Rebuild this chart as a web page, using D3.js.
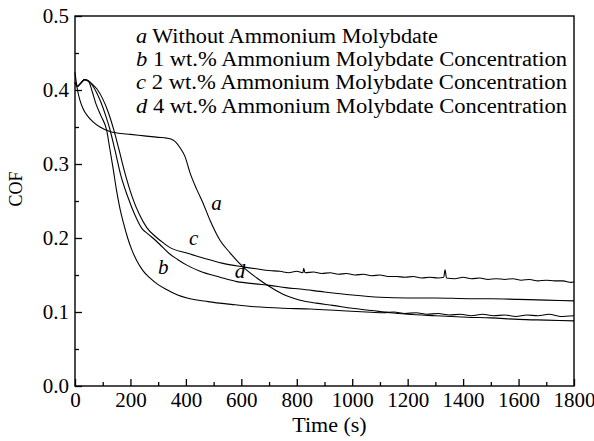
<!DOCTYPE html>
<html>
<head>
<meta charset="utf-8">
<script src="https://cdn.jsdelivr.net/npm/d3@7/dist/d3.min.js"></script>
<style>
  body { margin: 0; background: #fff; }
  svg { display: block; font-family: "Liberation Serif", "Times New Roman", serif; }
</style>
</head>
<body>
<svg id="chart" width="594" height="441"></svg>
<script>
// COF vs time: [time (s), COF]
const curveA = [[0,0.424],[4,0.412],[10,0.398],[18,0.386],[30,0.374],[45,0.365],[65,0.357],[90,0.35],[126,0.344],[151,0.342],[200,0.34],[250,0.338],[300,0.336],[330,0.335],[350,0.333],[365,0.329],[379,0.322],[397,0.31],[415,0.288],[440,0.265],[462,0.247],[487,0.224],[523,0.197],[559,0.18],[606,0.161],[656,0.146],[703,0.134],[750,0.124],[812,0.116],[870,0.112],[930,0.109],[1000,0.105],[1070,0.102],[1136,0.099],[1200,0.097],[1300,0.095],[1414,0.093],[1500,0.092],[1600,0.09],[1700,0.089],[1800,0.088]];

const curveB = [[0,0.41],[8,0.405],[20,0.409],[35,0.414],[50,0.411],[62,0.398],[75,0.382],[95,0.364],[114,0.346],[125,0.322],[137,0.295],[150,0.264],[162,0.24],[175,0.22],[190,0.2],[205,0.184],[222,0.17],[245,0.156],[270,0.146],[300,0.137],[332,0.13],[370,0.123],[404,0.119],[480,0.114],[570,0.11],[650,0.107],[750,0.105],[850,0.104],[950,0.102],[1050,0.1],[1110,0.099],[1150,0.1],[1190,0.098],[1230,0.099],[1270,0.097],[1310,0.098],[1350,0.096],[1390,0.097],[1430,0.095],[1470,0.097],[1510,0.095],[1550,0.096],[1590,0.094],[1630,0.096],[1670,0.095],[1710,0.097],[1750,0.094],[1800,0.095]];

const curveC = [[0,0.41],[8,0.405],[20,0.409],[35,0.414],[50,0.412],[65,0.407],[80,0.401],[100,0.388],[120,0.37],[140,0.346],[159,0.319],[180,0.288],[206,0.256],[232,0.232],[259,0.214],[290,0.202],[320,0.193],[343,0.187],[400,0.18],[462,0.173],[530,0.166],[606,0.161],[660,0.158],[700,0.156],[740,0.155],[770,0.153],[800,0.155],[822,0.153],[825,0.159],[830,0.153],[860,0.154],[890,0.152],[920,0.153],[950,0.151],[980,0.152],[1010,0.15],[1040,0.151],[1070,0.149],[1100,0.15],[1130,0.148],[1160,0.148],[1190,0.147],[1220,0.148],[1250,0.146],[1280,0.147],[1310,0.146],[1330,0.147],[1335,0.157],[1340,0.146],[1370,0.145],[1400,0.147],[1430,0.145],[1460,0.146],[1490,0.144],[1520,0.145],[1550,0.144],[1580,0.145],[1610,0.143],[1640,0.144],[1670,0.142],[1700,0.143],[1730,0.142],[1760,0.142],[1790,0.14],[1800,0.141]];

const curveD = [[0,0.41],[8,0.405],[20,0.409],[35,0.414],[50,0.412],[65,0.405],[80,0.395],[95,0.382],[110,0.366],[125,0.348],[144,0.319],[165,0.285],[191,0.255],[215,0.232],[241,0.213],[265,0.205],[290,0.197],[315,0.188],[343,0.178],[370,0.171],[400,0.164],[451,0.155],[523,0.147],[584,0.141],[650,0.138],[703,0.136],[760,0.133],[812,0.131],[900,0.127],[1000,0.123],[1100,0.12],[1200,0.119],[1300,0.119],[1425,0.118],[1500,0.118],[1600,0.117],[1700,0.116],[1800,0.115]];

const series = [curveA, curveB, curveC, curveD];

// curve letters placed next to the lines: [letter, time, COF]
const curveLabels = [["a", 510, 0.238], ["b", 318, 0.152], ["c", 428, 0.19], ["d", 595, 0.146]];

const legendLetters = ["a", "b", "c", "d"];
const legendTexts = [
  " Without Ammonium Molybdate",
  " 1 wt.% Ammonium Molybdate Concentration",
  " 2 wt.% Ammonium Molybdate Concentration",
  " 4 wt.% Ammonium Molybdate Concentration"
];

const xMajor = [0, 200, 400, 600, 800, 1000, 1200, 1400, 1600, 1800];
const xMinor = [100, 300, 500, 700, 900, 1100, 1300, 1500, 1700];
const yMajor = [0.0, 0.1, 0.2, 0.3, 0.4, 0.5];
const yMinor = [0.05, 0.15, 0.25, 0.35, 0.45];

const margin = { top: 16, right: 20, bottom: 55, left: 75 };
const width = 594, height = 441;

const svg = d3.select("#chart");

const x = d3.scaleLinear().domain([0, 1800]).range([margin.left, width - margin.right]);
const y = d3.scaleLinear().domain([0, 0.5]).range([height - margin.bottom, margin.top]);

function drawAxes() {
    const xAxis = svg.append("g")
        .attr("transform", `translate(0,${y(0)})`)
        .call(d3.axisBottom(x).tickValues(xMajor).tickSize(-7).tickPadding(6).tickFormat(d3.format("d")));
    svg.append("g")
        .attr("transform", `translate(0,${y(0)})`)
        .call(d3.axisBottom(x).tickValues(xMinor).tickSize(-4).tickFormat(""));

    const yAxis = svg.append("g")
        .attr("transform", `translate(${x(0)},0)`)
        .call(d3.axisLeft(y).tickValues(yMajor).tickSize(-7).tickPadding(6).tickFormat(d3.format(".1f")));
    svg.append("g")
        .attr("transform", `translate(${x(0)},0)`)
        .call(d3.axisLeft(y).tickValues(yMinor).tickSize(-4).tickFormat(""));

    svg.selectAll(".domain").remove();
    svg.selectAll(".tick line").attr("stroke", "#000").attr("stroke-width", 1.3);
    svg.selectAll(".tick text")
        .attr("fill", "#000")
        .style("font-size", "21px")
        .style("font-family", "'Liberation Serif', serif");

    svg.append("rect")
        .attr("x", x(0))
        .attr("y", y(0.5))
        .attr("width", x(1800) - x(0))
        .attr("height", y(0) - y(0.5))
        .attr("fill", "none")
        .attr("stroke", "#000")
        .attr("stroke-width", 1.4);

    svg.append("text")
        .attr("x", (x(0) + x(1800)) / 2 + 5)
        .attr("y", 432)
        .attr("text-anchor", "middle")
        .style("font-size", "22px")
        .text("Time (s)");

    svg.append("text")
        .attr("transform", `translate(22,${189}) rotate(-90)`)
        .attr("text-anchor", "middle")
        .style("font-size", "18px")
        .text("COF");
}

function drawCurves() {
    const line = d3.line()
        .x(d => x(d[0]))
        .y(d => y(d[1]))
        .curve(d3.curveMonotoneX);

    svg.append("g")
        .selectAll("path")
        .data(series)
        .enter()
        .append("path")
        .attr("d", line)
        .attr("fill", "none")
        .attr("stroke", "#000")
        .attr("stroke-width", 1.1);

    svg.append("g")
        .selectAll("text")
        .data(curveLabels)
        .enter()
        .append("text")
        .attr("x", d => x(d[1]))
        .attr("y", d => y(d[2]))
        .attr("text-anchor", "middle")
        .style("font-size", "21px")
        .style("font-style", "italic")
        .text(d => d[0]);
}

function drawLegend() {
    const legend = svg.append("g");
    legendLetters.forEach((letter, i) => {
        const t = legend.append("text")
            .attr("x", 136)
            .attr("y", 43 + i * 23.2)
            .style("font-size", "20px")
            .attr("textLength", i === 0 ? 302 : 431)
            .attr("lengthAdjust", "spacingAndGlyphs")
            .attr("xml:space", "preserve");
        t.append("tspan").style("font-style", "italic").text(letter);
        t.append("tspan").text(legendTexts[i]);
    });
}

drawAxes();
drawCurves();
drawLegend();
</script>
</body>
</html>
